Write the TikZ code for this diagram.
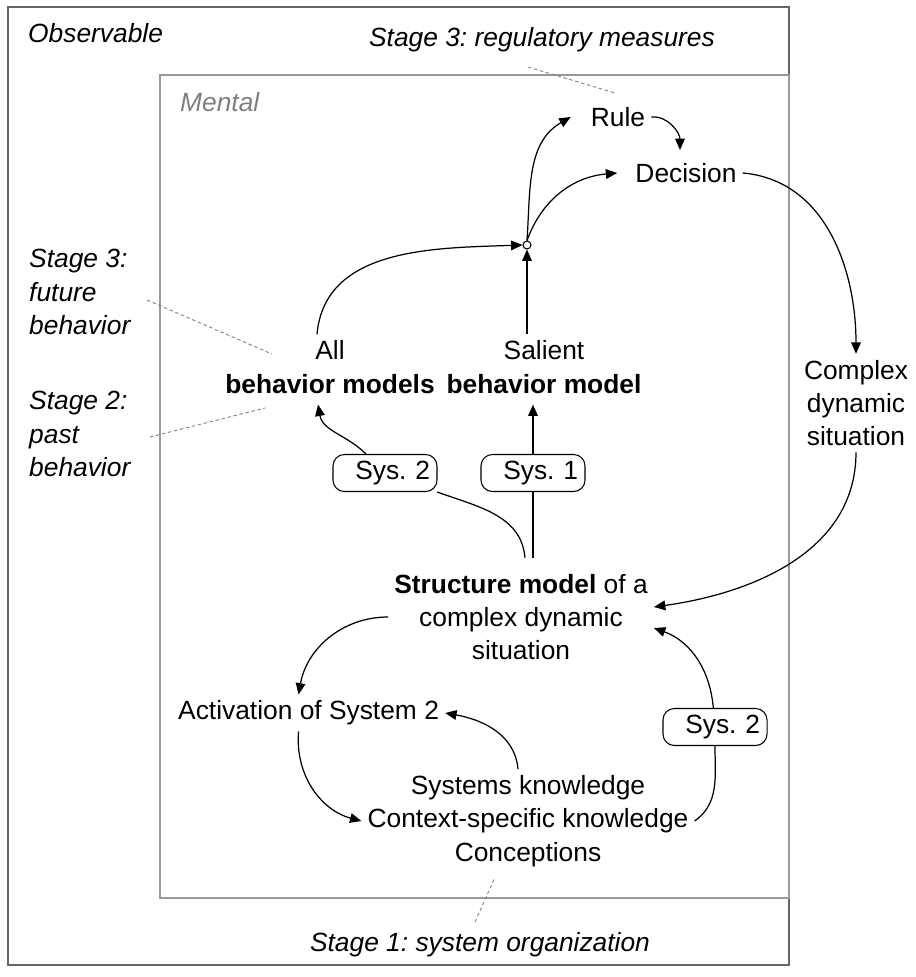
\documentclass[tikz,border=0pt]{standalone}
\usepackage{fontspec}
\setmainfont{Liberation Sans}
\frenchspacing
\usetikzlibrary{arrows.meta}

\begin{document}
\begin{tikzpicture}[x=0.02cm,y=0.02cm,
    font=\fontsize{15}{19}\selectfont,
    arr/.style={-{Triangle[length=6.5pt,width=5.5pt]}, line width=0.7pt},
    sysbox/.style={draw, fill=white, rounded corners=6.5pt, line width=0.6pt,
        minimum height=0.74cm, text width=1.8cm, align=right, inner xsep=4pt, inner ysep=0pt},
    stage/.style={font=\fontsize{15}{19}\selectfont\itshape},
    leader/.style={gray, line width=0.5pt, dash pattern=on 2pt off 1.5pt}]
\useasboundingbox (0,0) rectangle (916,-977);

% Draw the two frames
\draw[black!60, line width=0.8pt] (8,-7) rectangle (789,-965);
\draw[black!40, line width=0.8pt] (160,-75) rectangle (789,-898);

% Frame and stage labels
\node[stage, anchor=west] (observable) at (22,-33) {Observable};
\node[stage, anchor=west, text=black!50] (mental) at (174,-102) {Mental};
\node[stage] (regulatory) at (542,-40) {Stage 3: regulatory measures};
\node[stage, anchor=west, align=left] (future) at (23,-292) {Stage 3:\\future\\behavior};
\node[stage, anchor=west, align=left] (past) at (23,-434) {Stage 2:\\past\\behavior};
\node[stage] (organization) at (480,-945) {Stage 1: system organization};

% Mental nodes
\node (rule) at (618,-117) {Rule};
\node (decision) at (686,-173) {Decision};
\node[circle, draw, fill=white, inner sep=0pt, minimum size=0.16cm, line width=0.6pt] (hub) at (527,-245) {};
\node[align=center] (allmodels) at (330,-367) {All\\\textbf{behavior models}};
\node[align=center] (salient) at (544,-367) {Salient\\\textbf{behavior model}};
\node[sysbox] (sysall) at (385,-473) {Sys. 2};
\node[sysbox] (syssal) at (533,-473) {Sys. 1};
\node[align=center] (structure) at (521,-617) {\textbf{Structure model} of a\\complex dynamic\\situation};
\node[anchor=west] (activation) at (172,-713) {Activation of System 2};
\node[align=center] (knowledge) at (528,-821) {Systems knowledge\\Context-specific knowledge\\Conceptions};
\node[sysbox] (sysknow) at (715,-727) {Sys. 2};
\node[align=center] (situation) at (856,-403) {Complex\\dynamic\\situation};

% Dashed leaders from the stage labels
\coordinate (reg1) at (528,-67);  \coordinate (reg2) at (615,-93);
\coordinate (fut1) at (147,-300); \coordinate (fut2) at (272,-354);
\coordinate (pst1) at (150,-437); \coordinate (pst2) at (265,-408);
\coordinate (org1) at (475,-922); \coordinate (org2) at (495,-877);
\foreach \a/\b in {reg1/reg2, fut1/fut2, pst1/pst2, org1/org2}
    \draw[leader] (\a) -- (\b);

% Upper connectors
\draw[arr] (rule.east) to[out=5,in=90] ([xshift=-0.12cm,yshift=0.14cm]decision.north);
\draw[arr] (hub.north) to[out=86,in=210] ([xshift=-0.28cm]rule.west);
\draw[arr] (hub.north) to[out=70,in=185] ([xshift=-0.24cm]decision.west);
\draw[arr] ([xshift=-0.26cm]allmodels.north) to[out=85,in=182] (hub.west);
\draw[arr] (hub |- salient.north) -- (hub.south);
\draw[arr] (decision.east) to[out=-5,in=90] (situation.north);
\draw[arr] (situation.south) to[out=-90,in=8] ([yshift=0.2cm]structure.east);

% Structure model to behavior models
\draw[line width=0.7pt] ([xshift=0.08cm,yshift=0.2cm]structure.north) to[out=95,in=-20] (sysall);
\draw[arr] (sysall) to[out=135,in=-80] ([xshift=-0.24cm,yshift=-0.1cm]allmodels.south);
\draw[line width=0.7pt] ([yshift=0.2cm]structure.north -| syssal) -- (syssal.south);
\draw[arr] (syssal.north) -- ([yshift=-0.1cm]syssal |- salient.south);

% Lower loop
\draw[arr] (structure.west) to[out=180,in=80] ([xshift=-0.2cm]activation.north);
\draw[arr] ([xshift=-0.2cm]activation.south) to[out=-95,in=165] (knowledge.west);
\draw[arr] ([xshift=-0.2cm]knowledge.north) to[out=95,in=-10] (activation.east);
\draw[line width=0.7pt] (knowledge.east) to[out=35,in=-90] (sysknow);
\draw[arr] (sysknow) to[out=95,in=-20] ([yshift=-0.22cm]structure.east);

\end{tikzpicture}
\end{document}
